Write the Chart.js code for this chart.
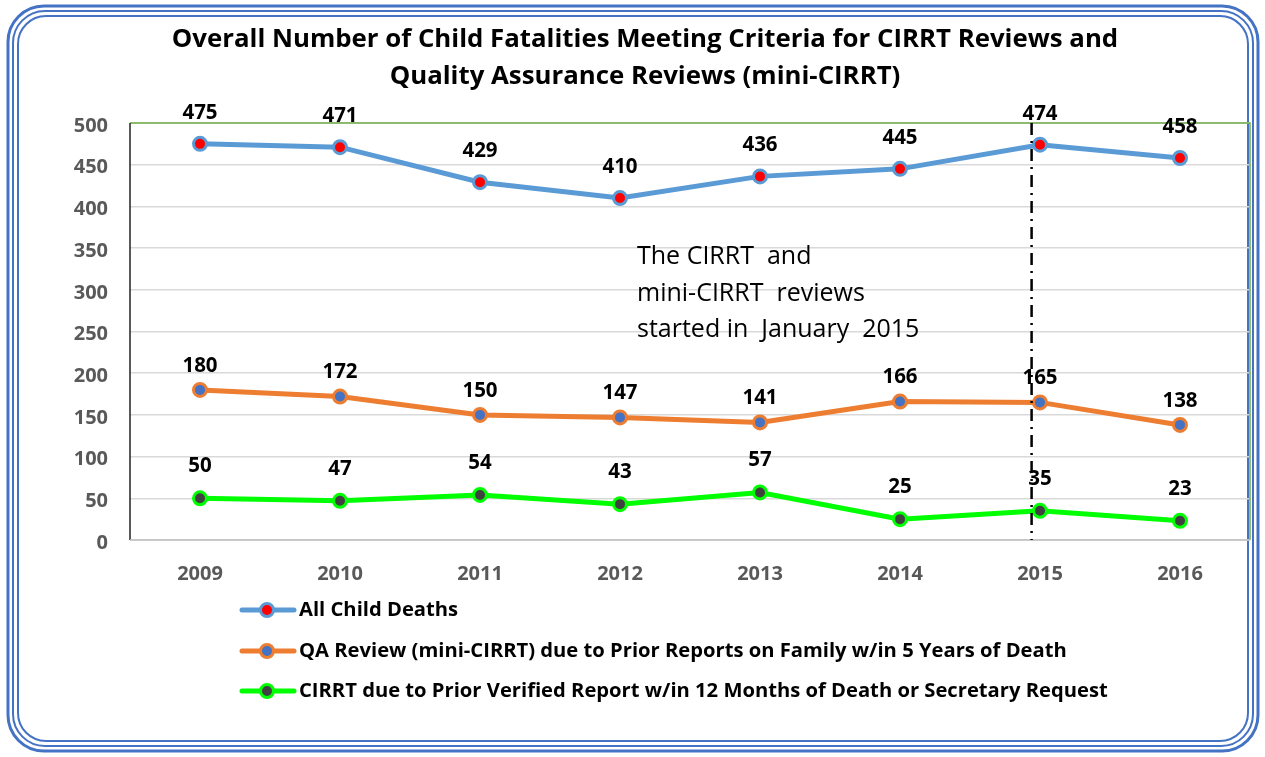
<!DOCTYPE html>
<html>
<head>
<meta charset="utf-8">
<script src="https://cdn.jsdelivr.net/npm/chart.js@4.4.0/dist/chart.umd.min.js"></script>
<style>
  body { margin: 0; background: #fff; }
  canvas { display: block; }
</style>
</head>
<body>
<canvas id="fatalChart" width="1265" height="757"></canvas>
<script>
const years = ['2009', '2010', '2011', '2012', '2013', '2014', '2015', '2016'];
const allDeaths = [475, 471, 429, 410, 436, 445, 474, 458];
const qaReviews = [180, 172, 150, 147, 141, 166, 165, 138];
const cirrtReviews = [50, 47, 54, 43, 57, 25, 35, 23];
const seriesNames = [
  'All Child Deaths',
  'QA Review (mini-CIRRT) due to Prior Reports on Family w/in 5 Years of Death',
  'CIRRT due to Prior Verified Report w/in 12 Months of Death or Secretary Request'
];
const titleLines = [
  'Overall Number of Child Fatalities Meeting Criteria for CIRRT Reviews and',
  'Quality Assurance Reviews (mini-CIRRT)'
];
const noteLines = ['The CIRRT  and', 'mini-CIRRT  reviews', 'started in  January  2015'];

const FONT = '"Open Sans", Lato, sans-serif';

// label offsets above each point, per series
const labelOffsets = [31, 24, 32];

const decorations = {
  id: 'decorations',
  beforeDraw(chart) {
    const ctx = chart.ctx;
    ctx.save();
    ctx.fillStyle = '#fff';
    ctx.fillRect(0, 0, chart.width, chart.height);
    // triple blue frame
    ctx.strokeStyle = '#4472c4';
    ctx.lineWidth = 3;
    ctx.beginPath();
    ctx.roundRect(8, 6, 1250, 745, 36);
    ctx.stroke();
    ctx.lineWidth = 2;
    ctx.beginPath();
    ctx.roundRect(13, 11, 1240, 735, 32);
    ctx.stroke();
    ctx.beginPath();
    ctx.roundRect(18, 16, 1230, 725, 28);
    ctx.stroke();
    ctx.restore();
  },
  afterDraw(chart) {
    const ctx = chart.ctx;
    const area = chart.chartArea;
    const xs = chart.scales.x;
    ctx.save();

    // plot area border
    ctx.lineWidth = 1.5;
    ctx.strokeStyle = '#70ad47';
    ctx.beginPath();
    ctx.moveTo(area.left, area.top);
    ctx.lineTo(area.right, area.top);
    ctx.lineTo(area.right, area.bottom);
    ctx.stroke();
    ctx.strokeStyle = '#222';
    ctx.beginPath();
    ctx.moveTo(area.left, area.top);
    ctx.lineTo(area.left, area.bottom);
    ctx.stroke();
    ctx.strokeStyle = '#bfbfbf';
    ctx.beginPath();
    ctx.moveTo(area.left, area.bottom);
    ctx.lineTo(area.right, area.bottom);
    ctx.stroke();

    // title
    ctx.fillStyle = '#000';
    ctx.font = 'bold 25.8px ' + FONT;
    ctx.textAlign = 'center';
    ctx.textBaseline = 'middle';
    ctx.fillText(titleLines[0], 645, 40);
    ctx.fillText(titleLines[1], 645, 77);

    // note text
    ctx.font = '25px ' + FONT;
    ctx.textAlign = 'left';
    noteLines.forEach((t, i) => ctx.fillText(t, 637, 257 + i * 36.5));

    // dash-dot marker line just before 2015
    const vx = xs.getPixelForValue(5.94);
    ctx.strokeStyle = '#000';
    ctx.lineWidth = 2.5;
    ctx.setLineDash([12, 6, 2, 6]);
    ctx.beginPath();
    ctx.moveTo(vx, area.top);
    ctx.lineTo(vx, area.bottom);
    ctx.stroke();
    ctx.setLineDash([]);

    // data labels
    ctx.font = 'bold 20.5px ' + FONT;
    ctx.textAlign = 'center';
    ctx.fillStyle = '#000';
    chart.data.datasets.forEach((ds, di) => {
      chart.getDatasetMeta(di).data.forEach((pt, i) => {
        ctx.fillText(String(ds.data[i]), pt.x, pt.y - labelOffsets[di]);
      });
    });

    // legend
    const legendY = [610, 651, 691];
    chart.data.datasets.forEach((ds, di) => {
      const y = legendY[di];
      ctx.strokeStyle = ds.borderColor;
      ctx.lineWidth = 5;
      ctx.lineCap = 'round';
      ctx.beginPath();
      ctx.moveTo(242, y);
      ctx.lineTo(294, y);
      ctx.stroke();
      ctx.beginPath();
      ctx.arc(267, y, 6.5, 0, Math.PI * 2);
      ctx.fillStyle = ds.pointBackgroundColor;
      ctx.fill();
      ctx.lineWidth = 3;
      ctx.strokeStyle = ds.borderColor;
      ctx.stroke();
      ctx.fillStyle = '#000';
      ctx.font = 'bold 20.2px ' + FONT;
      ctx.textAlign = 'left';
      ctx.fillText(seriesNames[di], 299, y);
    });
    ctx.restore();
  }
};

function lineSet(label, data, color, dotColor) {
  return {
    label: label,
    data: data,
    borderColor: color,
    borderWidth: 5,
    pointRadius: 6.5,
    pointBorderWidth: 3,
    pointBackgroundColor: dotColor,
    pointBorderColor: color,
    tension: 0
  };
}

new Chart(document.getElementById('fatalChart').getContext('2d'), {
  type: 'line',
  data: {
    labels: years,
    datasets: [
      lineSet(seriesNames[0], allDeaths, '#5b9bd5', '#ff0000'),
      lineSet(seriesNames[1], qaReviews, '#ed7d31', '#4472c4'),
      lineSet(seriesNames[2], cirrtReviews, '#00ff00', '#404040')
    ]
  },
  options: {
    responsive: false,
    animation: false,
    layout: { padding: { top: 123, right: 15, left: 0, bottom: 0 } },
    plugins: { legend: { display: false }, tooltip: { enabled: false } },
    scales: {
      x: {
        offset: true,
        grid: { display: false },
        border: { display: false },
        ticks: { color: '#595959', font: { family: FONT, size: 20, weight: 'bold' }, padding: 14 },
        afterFit(scale) { scale.height = 217; }
      },
      y: {
        min: 0,
        max: 500,
        grid: { color: '#d9d9d9', lineWidth: 1.5, drawTicks: false },
        border: { display: false },
        ticks: { stepSize: 50, color: '#595959', font: { family: FONT, size: 20, weight: 'bold' }, padding: 22, labelOffset: 3 },
        afterFit(scale) { scale.width = 130; }
      }
    }
  },
  plugins: [decorations]
});
</script>
</body>
</html>
